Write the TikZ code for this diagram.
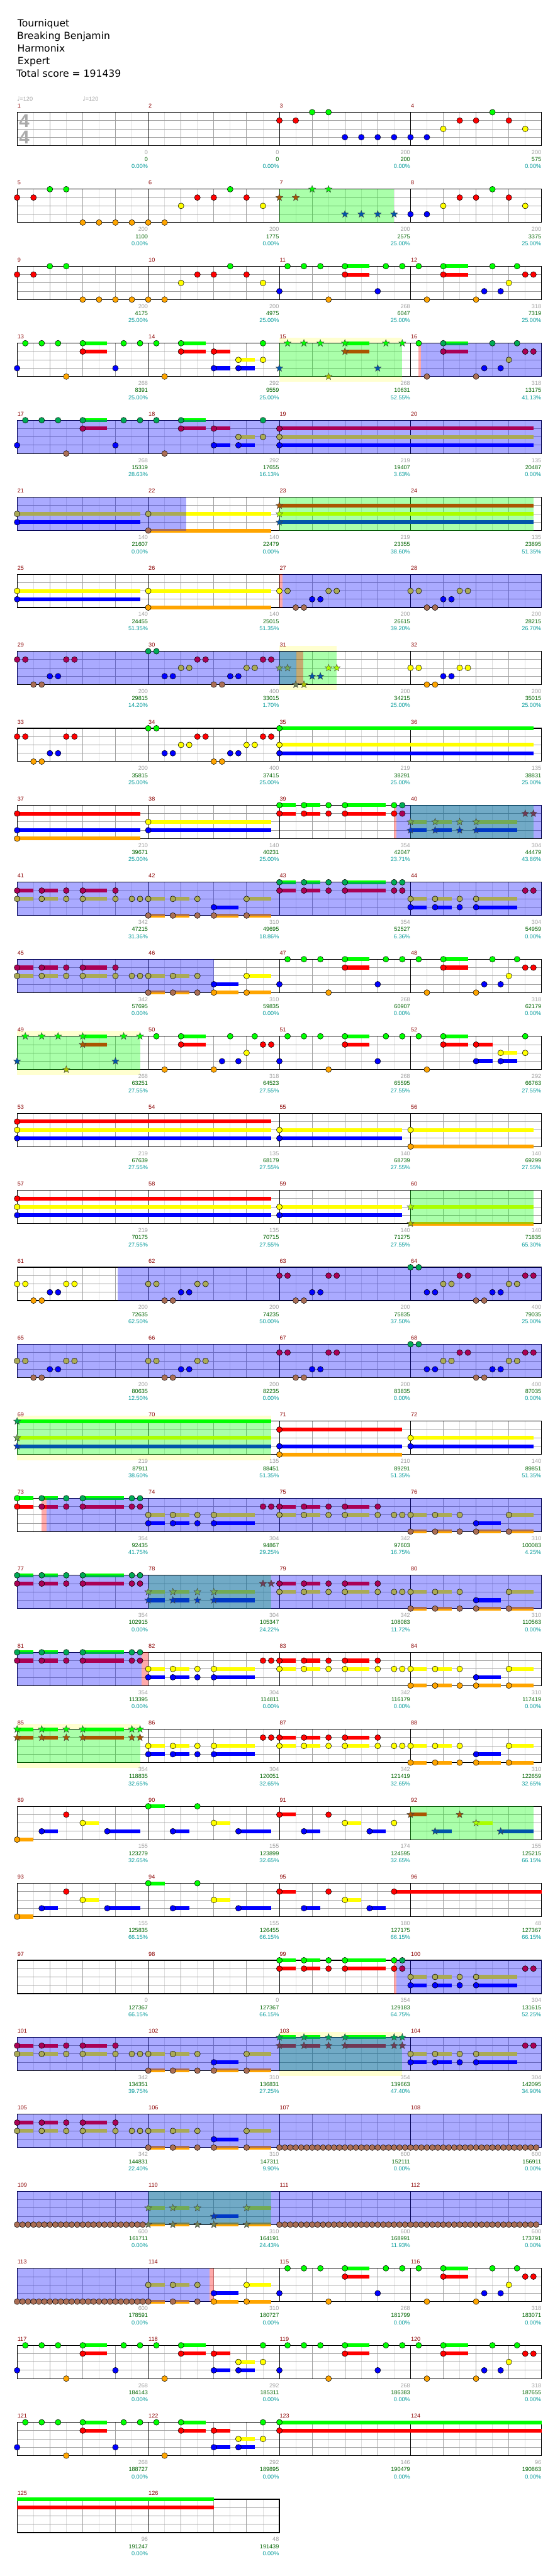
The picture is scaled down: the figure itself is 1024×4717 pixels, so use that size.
\documentclass[tikz,border=0pt]{standalone}
\usepackage{fontspec}
\setmainfont{DejaVu Sans}
\newfontfamily\lab{Liberation Sans}
\newfontfamily\dv{DejaVu Sans}
\newif\ifsus
% lane colours: n normal, b blue overlay, g green (star power), t green+blue
\definecolor{lane0n}{RGB}{0,255,0}\definecolor{lane1n}{RGB}{255,0,0}\definecolor{lane2n}{RGB}{255,255,0}\definecolor{lane3n}{RGB}{0,0,255}\definecolor{lane4n}{RGB}{255,165,0}
\definecolor{lane0b}{RGB}{0,170,85}\definecolor{lane1b}{RGB}{170,0,85}\definecolor{lane2b}{RGB}{170,170,85}\definecolor{lane3b}{RGB}{0,0,255}\definecolor{lane4b}{RGB}{170,110,85}
\definecolor{lane0g}{RGB}{0,255,0}\definecolor{lane1g}{RGB}{170,85,0}\definecolor{lane2g}{RGB}{170,255,0}\definecolor{lane3g}{RGB}{0,85,170}\definecolor{lane4g}{RGB}{170,195,0}
\definecolor{lane0t}{RGB}{0,170,85}\definecolor{lane1t}{RGB}{113,57,85}\definecolor{lane2t}{RGB}{113,170,85}\definecolor{lane3t}{RGB}{0,57,198}\definecolor{lane4t}{RGB}{113,130,85}
\definecolor{mnum}{RGB}{139,0,0}
\definecolor{gnum}{RGB}{160,160,160}
\definecolor{snum}{RGB}{0,100,0}
\definecolor{pnum}{RGB}{0,153,153}
\definecolor{solo}{RGB}{255,255,208}
\definecolor{gline}{RGB}{160,160,160}
\definecolor{lline}{RGB}{222,222,222}
\definecolor{tsig}{RGB}{170,170,170}
\tikzset{
 txt/.style={inner sep=0pt,font=\lab\fontsize{10.5}{12}\selectfont},
 head/.style={inner sep=0pt,anchor=base west,font=\fontsize{18}{22}\selectfont},
 gov/.style={fill={rgb,255:red,0;green,255;blue,0},fill opacity=0.333},
 bov/.style={fill={rgb,255:red,0;green,0;blue,255},fill opacity=0.333},
 pov/.style={fill={rgb,255:red,255;green,0;blue,0},fill opacity=0.333}
}
\newcommand\setpos[2]{%
 \pgfmathsetmacro\px{31.3+240*mod(#1-1,4)+15*(#2)}%
 \pgfmathsetmacro\py{205.5+141*floor((#1-1)/4)}}
\newcommand\chkb[2]{%
 \pgfmathsetmacro\gp{(#1-1)*16+(#2)}%
 \pgfmathtruncatemacro\isb{(\gp>241.2)*(\gp<340.6)+(\gp>416.2)*(\gp<482.5)+(\gp>622.5)*(\gp<727.5)+(\gp>972.1)*(\gp<1088.5)+(\gp>1154.5)*(\gp<1295.5)+(\gp>1582.5)*(\gp<1815.5)}}
\newcommand\Nc[3]{\ifsus\else
 \setpos{#1}{#2}\chkb{#1}{#2}%
 \ifnum\isb>0 \def\csuf{b}\else\def\csuf{n}\fi
 \foreach \lnx in {#3}{%
  \pgfmathsetmacro\yy{\py+15.25*\lnx}%
  \filldraw[fill=lane\lnx\csuf,draw=black,line width=.6pt] (\px,\yy) circle (5.3);}%
 \fi}
\newcommand\Ns[3]{\ifsus\else
 \setpos{#1}{#2}\chkb{#1}{#2}%
 \ifnum\isb>0 \def\csuf{t}\else\def\csuf{g}\fi
 \foreach \lnx in {#3}{%
  \pgfmathsetmacro\yy{\py+15.25*\lnx}%
  \filldraw[fill=lane\lnx\csuf,draw=black!75,line width=.5pt,shift={(\px,\yy)}] (270:6.8)--(306:2.9)--(342:6.8)--(18:2.9)--(54:6.8)--(90:2.9)--(126:6.8)--(162:2.9)--(198:6.8)--(234:2.9)--cycle;}%
 \fi}
\newcommand\Su[4]{\ifsus
 \setpos{#1}{#2}\let\pa\px\setpos{#1}{#3}%
 \foreach \lnx in {#4}{%
  \pgfmathsetmacro\yy{\py+15.25*\lnx}%
  \fill[lane\lnx n] (\pa,\yy-3.5) rectangle (\px,\yy+3.5);}%
 \fi}
\newcommand\Lg[4]{\Su{#1}{0}{#2}{#3}#4{#1}{0}{#3}}
\newcommand\Rg[4]{\setpos{#1}{#2}\let\pa\px\setpos{#1}{#3}\fill[#4] (\pa,\py) rectangle (\px,\py+61);}
\newcommand\Solo[3]{\setpos{#1}{#2}\let\pa\px\setpos{#1}{#3}\fill[solo] (\pa,\py-10) rectangle (\px,\py+71);}
% patterns
\newcommand\pAa[3]{#2{#1}{0}{1}#2{#1}{2}{1}#2{#1}{4}{0}#2{#1}{6}{0}#2{#1}{8}{#3}#2{#1}{10}{#3}#2{#1}{12}{#3}#2{#1}{14}{#3}}
\newcommand\pAb[3]{#2{#1}{0}{#3}#2{#1}{2}{#3}#2{#1}{4}{2}#2{#1}{6}{1}#2{#1}{8}{1}#2{#1}{10}{0}#2{#1}{12}{1}#2{#1}{14}{2}}
\newcommand\pBo[2]{#2{#1}{0}{3}#2{#1}{1}{0}#2{#1}{3}{0}#2{#1}{5}{0}#2{#1}{6}{4}\Su{#1}{8}{11}{0,1}#2{#1}{8}{0,1}#2{#1}{12}{3}#2{#1}{13}{0}#2{#1}{15}{0}}
\newcommand\pBe[2]{#2{#1}{1}{0}#2{#1}{2}{4}\Su{#1}{4}{7}{0,1}#2{#1}{4}{0,1}#2{#1}{8}{4}#2{#1}{9}{3}#2{#1}{10}{0}#2{#1}{11}{3}#2{#1}{12}{2}#2{#1}{13}{0}#2{#1}{14}{1}#2{#1}{15}{1}}
\newcommand\pC[2]{#2{#1}{1}{0}#2{#1}{2}{4}\Su{#1}{4}{7}{0,1}#2{#1}{4}{0,1}\Su{#1}{8}{10}{1,3}#2{#1}{8}{1,3}\Su{#1}{11}{13}{2,3}#2{#1}{11}{2,3}#2{#1}{14}{0,2}}
\newcommand\pDa[2]{#2{#1}{0}{2}#2{#1}{1}{2}#2{#1}{2}{4}#2{#1}{3}{4}#2{#1}{4}{3}#2{#1}{5}{3}#2{#1}{6}{2}#2{#1}{7}{2}}
\newcommand\pDb[2]{#2{#1}{0}{1}#2{#1}{1}{1}#2{#1}{2}{4}#2{#1}{3}{4}#2{#1}{4}{3}#2{#1}{5}{3}#2{#1}{6}{1}#2{#1}{7}{1}}
\newcommand\pDc[2]{#2{#1}{0}{0}#2{#1}{1}{0}#2{#1}{2}{3}#2{#1}{3}{3}#2{#1}{4}{2}#2{#1}{5}{2}#2{#1}{6}{1}#2{#1}{7}{1}#2{#1}{8}{4}#2{#1}{9}{4}#2{#1}{10}{3}#2{#1}{11}{3}#2{#1}{12}{2}#2{#1}{13}{2}#2{#1}{14}{1}#2{#1}{15}{1}}
\newcommand\pEa[2]{\Su{#1}{0}{2}{0,1}#2{#1}{0}{0,1}\Su{#1}{3}{5}{0,1}#2{#1}{3}{0,1}#2{#1}{6}{0,1}\Su{#1}{8}{13}{0,1}#2{#1}{8}{0,1}#2{#1}{14}{0,1}#2{#1}{15}{0,1}}
\newcommand\pEb[2]{\Su{#1}{0}{2}{2,3}#2{#1}{0}{2,3}\Su{#1}{3}{5}{2,3}#2{#1}{3}{2,3}#2{#1}{6}{2,3}\Su{#1}{8}{13}{2,3}#2{#1}{8}{2,3}#2{#1}{14}{1}#2{#1}{15}{1}}
\newcommand\pEc[2]{\Su{#1}{0}{2}{1,2}#2{#1}{0}{1,2}\Su{#1}{3}{5}{1,2}#2{#1}{3}{1,2}#2{#1}{6}{1,2}\Su{#1}{8}{11}{1,2}#2{#1}{8}{1,2}#2{#1}{12}{1,2}#2{#1}{14}{2}#2{#1}{15}{2}}
\newcommand\pEd[2]{\Su{#1}{0}{2}{2,4}#2{#1}{0}{2,4}\Su{#1}{3}{5}{2,4}#2{#1}{3}{2,4}#2{#1}{6}{2,4}\Su{#1}{8}{11}{3,4}#2{#1}{8}{3,4}\Su{#1}{12}{15}{2,4}#2{#1}{12}{2,4}}
\newcommand\pFx[2]{\Su{#1}{3}{5}{3}#2{#1}{3}{3}\Su{#1}{8}{10}{2}#2{#1}{8}{2}}
\newcommand\pFa[2]{\Su{#1}{0}{2}{4}#2{#1}{0}{4}\pFx{#1}{#2}#2{#1}{6}{1}\Su{#1}{11}{15}{3}#2{#1}{11}{3}}
\newcommand\pFb[2]{\Su{#1}{0}{2}{0}#2{#1}{0}{0}\pFx{#1}{#2}#2{#1}{6}{0}\Su{#1}{11}{15}{3}#2{#1}{11}{3}}
\newcommand\pFc[2]{\Su{#1}{0}{2}{1}#2{#1}{0}{1}\pFx{#1}{#2}#2{#1}{6}{1}\Su{#1}{11}{13}{3}#2{#1}{11}{3}#2{#1}{14}{2}}
\newcommand\pFd[2]{\Su{#1}{0}{2}{1}#2{#1}{0}{1}\pFx{#1}{#2}#2{#1}{6}{1}\Su{#1}{11}{15}{3}#2{#1}{11}{3}}
\newcommand\pFe[2]{\Su{#1}{0}{2}{1}#2{#1}{0}{1}\pFx{#1}{#2}#2{#1}{6}{1}\Su{#1}{11}{13}{3}#2{#1}{11}{3}\Su{#1}{14}{32}{1}#2{#1}{14}{1}}
\newcommand\pG[2]{\foreach \kk in {0,...,23}{#2{#1}{\kk*2/3}{4}}}
\newcommand\song{%
\pAa{3}{\Nc}{3}\pAb{4}{\Nc}{3}\pAa{5}{\Nc}{4}\pAb{6}{\Nc}{4}%
\pAa{7}{\Ns}{3}\pAb{8}{\Nc}{3}\pAa{9}{\Nc}{4}\pAb{10}{\Nc}{4}%
\pBo{11}{\Nc}\pBe{12}{\Nc}\pBo{13}{\Nc}\pC{14}{\Nc}%
\pBo{15}{\Ns}\pBe{16}{\Nc}\pBo{17}{\Nc}\pC{18}{\Nc}%
\Lg{19}{31}{1,2,3}{\Nc}%
\Lg{21}{15}{2,3}{\Nc}\Lg{22}{15}{2,4}{\Nc}\Lg{23}{31}{1,2,3}{\Ns}%
\Lg{25}{15}{2,3}{\Nc}\Lg{26}{15}{2,4}{\Nc}\pDa{27}{\Nc}\pDa{28}{\Nc}%
\pDb{29}{\Nc}\pDc{30}{\Nc}\pDa{31}{\Ns}\pDa{32}{\Nc}%
\pDb{33}{\Nc}\pDc{34}{\Nc}\Lg{35}{31}{0,2,3}{\Nc}%
\Lg{37}{15}{1,3,4}{\Nc}\Lg{38}{15}{2,3}{\Nc}\pEa{39}{\Nc}\pEb{40}{\Ns}%
\pEc{41}{\Nc}\pEd{42}{\Nc}\pEa{43}{\Nc}\pEb{44}{\Nc}%
\pEc{45}{\Nc}\pEd{46}{\Nc}\pBo{47}{\Nc}\pBe{48}{\Nc}%
\pBo{49}{\Ns}\pBe{50}{\Nc}\pBo{51}{\Nc}\pC{52}{\Nc}%
\Lg{53}{31}{1,2,3}{\Nc}\Lg{55}{15}{2,3}{\Nc}\Lg{56}{15}{2,4}{\Nc}%
\Lg{57}{31}{1,2,3}{\Nc}\Lg{59}{15}{2,3}{\Nc}\Lg{60}{15}{2,4}{\Ns}%
\pDa{61}{\Nc}\pDa{62}{\Nc}\pDb{63}{\Nc}\pDc{64}{\Nc}%
\pDa{65}{\Nc}\pDa{66}{\Nc}\pDb{67}{\Nc}\pDc{68}{\Nc}%
\Lg{69}{31}{0,2,3}{\Ns}\Lg{71}{15}{1,3,4}{\Nc}\Lg{72}{15}{2,3}{\Nc}%
\pEa{73}{\Nc}\pEb{74}{\Nc}\pEc{75}{\Nc}\pEd{76}{\Nc}%
\pEa{77}{\Nc}\pEb{78}{\Ns}\pEc{79}{\Nc}\pEd{80}{\Nc}%
\pEa{81}{\Nc}\pEb{82}{\Nc}\pEc{83}{\Nc}\pEd{84}{\Nc}%
\pEa{85}{\Ns}\pEb{86}{\Nc}\pEc{87}{\Nc}\pEd{88}{\Nc}%
\pFa{89}{\Nc}\pFb{90}{\Nc}\pFc{91}{\Nc}\pFd{92}{\Ns}%
\pFa{93}{\Nc}\pFb{94}{\Nc}\pFe{95}{\Nc}%
\pEa{99}{\Nc}\pEb{100}{\Nc}%
\pEc{101}{\Nc}\pEd{102}{\Nc}\pEa{103}{\Ns}\pEb{104}{\Nc}%
\pEc{105}{\Nc}\pEd{106}{\Nc}\pG{107}{\Nc}\pG{108}{\Nc}%
\pG{109}{\Nc}\pEd{110}{\Ns}\pG{111}{\Nc}\pG{112}{\Nc}%
\pG{113}{\Nc}\pEd{114}{\Nc}\pBo{115}{\Nc}\pBe{116}{\Nc}%
\pBo{117}{\Nc}\pC{118}{\Nc}\pBo{119}{\Nc}\pBe{120}{\Nc}%
\pBo{121}{\Nc}\pC{122}{\Nc}\Lg{123}{32}{0,1}{\Nc}%
\Su{125}{0}{24}{0,1}}
\newcommand\staff[2]{%
 \pgfmathsetmacro\ty{205.5+141*#1}\pgfmathsetmacro\xr{31.3+240*#2}%
 \pgfmathtruncatemacro\nl{#2-1}%
 \fill[white] (31.3,\ty) rectangle (\xr,\ty+61);
 \foreach \k in {0,...,\nl}{%
  \pgfmathsetmacro\xa{31.3+240*\k}%
  \foreach \j in {1,3,5,7}{\draw[lline,line width=1pt] (\xa+30*\j,\ty) -- ++(0,61);}
  \foreach \j in {2,4,6}{\draw[gline,line width=1pt] (\xa+30*\j,\ty) -- ++(0,61);}}
 \foreach \j in {1,2,3}{\draw[gline,line width=1pt] (31.3,\ty+15.25*\j) -- (\xr,\ty+15.25*\j);}
 \foreach \k in {1,...,\nl}{\pgfmathsetmacro\xa{31.3+240*\k}\draw[black,line width=1pt] (\xa,\ty) -- ++(0,61);}
 \draw[black,line width=1.3pt] (31.3,\ty) rectangle (\xr,\ty+61);}
\begin{document}
\begin{tikzpicture}[x=1pt,y=-1pt]
\useasboundingbox (0,0) rectangle (1024,4717);
\fill[white] (0,0) rectangle (1024,4717);
% header
\node[head] (t1) at (32,49.3) {Tourniquet};
\node[head] (t2) at (31,72.3) {Breaking Benjamin};
\node[head] (t3) at (31.5,95.3) {Harmonix};
\node[head] (t4) at (32,118.3) {Expert};
\node[head] (t5) at (30,141.3) {Total score = 191439};
\node[txt,text=gnum,anchor=base west] (tp1) at (31,185) {{\dv\fontsize{11}{12}\selectfont ♩}=120};
\node[txt,text=gnum,anchor=base west] (tp2) at (151,185) {{\dv\fontsize{11}{12}\selectfont ♩}=120};
% solo sections
\Solo{15}{0}{15}\Solo{31}{0}{7}\Solo{49}{0}{15}\Solo{69}{0}{31}\Solo{85}{0}{15}\Solo{103}{0}{15}
% staffs
\foreach \r in {0,...,30}{\staff{\r}{4}}
\staff{31}{2}
\node[inner sep=0pt,text=tsig,font=\lab\bfseries\fontsize{34}{34}\selectfont] (ts1) at (44.5,221) {4};
\node[inner sep=0pt,text=tsig,font=\lab\bfseries\fontsize{34}{34}\selectfont] (ts2) at (44.5,251) {4};
% sustains
\sustrue\song
% overlays
\Rg{7}{0}{14}{gov}\Rg{15}{0}{15}{gov}\Rg{23}{0}{31}{gov}\Rg{31}{0}{7}{gov}\Rg{40}{0}{15}{gov}
\Rg{49}{0}{15}{gov}\Rg{60}{0}{15}{gov}\Rg{69}{0}{31}{gov}\Rg{78}{0}{15}{gov}\Rg{85}{0}{15}{gov}
\Rg{92}{0}{15}{gov}\Rg{103}{0}{15}{gov}\Rg{110}{0}{15}{gov}
\Rg{16}{1.3}{16}{bov}\Rg{17}{0}{64}{bov}\Rg{21}{0}{20.6}{bov}\Rg{27}{0.4}{32}{bov}\Rg{29}{0}{34.1}{bov}
\Rg{39}{14.3}{32}{bov}\Rg{41}{0}{64}{bov}\Rg{45}{0}{24}{bov}\Rg{61}{12.3}{64}{bov}\Rg{65}{0}{64}{bov}
\Rg{73}{3.6}{64}{bov}\Rg{77}{0}{64}{bov}\Rg{81}{0}{15.2}{bov}\Rg{99}{14.3}{32}{bov}\Rg{101}{0}{64}{bov}
\Rg{105}{0}{64}{bov}\Rg{109}{0}{64}{bov}\Rg{113}{0}{23.5}{bov}
\Rg{16}{1}{1.3}{pov}\Rg{27}{0}{0.4}{pov}\Rg{31}{2.1}{2.9}{pov}\Rg{39}{14}{14.3}{pov}
\Rg{73}{3}{3.6}{pov}\Rg{81}{15.2}{16}{pov}\Rg{99}{14}{14.3}{pov}\Rg{114}{7.5}{8}{pov}
% notes
\susfalse\song
% labels
\foreach \m/\g/\s/\p in {1/0/0/0.00,2/0/0/0.00,3/200/200/0.00,4/200/575/0.00,
5/200/1100/0.00,6/200/1775/0.00,7/200/2575/25.00,8/200/3375/25.00,
9/200/4175/25.00,10/200/4975/25.00,11/268/6047/25.00,12/318/7319/25.00,
13/268/8391/25.00,14/292/9559/25.00,15/268/10631/52.55,16/318/13175/41.13,
17/268/15319/28.63,18/292/17655/16.13,19/219/19407/3.63,20/135/20487/0.00,
21/140/21607/0.00,22/140/22479/0.00,23/219/23355/38.60,24/135/23895/51.35,
25/140/24455/51.35,26/140/25015/51.35,27/200/26615/39.20,28/200/28215/26.70,
29/200/29815/14.20,30/400/33015/1.70,31/200/34215/25.00,32/200/35015/25.00,
33/200/35815/25.00,34/400/37415/25.00,35/219/38291/25.00,36/135/38831/25.00,
37/210/39671/25.00,38/140/40231/25.00,39/354/42047/23.71,40/304/44479/43.86,
41/342/47215/31.36,42/310/49695/18.86,43/354/52527/6.36,44/304/54959/0.00,
45/342/57695/0.00,46/310/59835/0.00,47/268/60907/0.00,48/318/62179/0.00,
49/268/63251/27.55,50/318/64523/27.55,51/268/65595/27.55,52/292/66763/27.55,
53/219/67639/27.55,54/135/68179/27.55,55/140/68739/27.55,56/140/69299/27.55,
57/219/70175/27.55,58/135/70715/27.55,59/140/71275/27.55,60/140/71835/65.30,
61/200/72635/62.50,62/200/74235/50.00,63/200/75835/37.50,64/400/79035/25.00,
65/200/80635/12.50,66/200/82235/0.00,67/200/83835/0.00,68/400/87035/0.00,
69/219/87911/38.60,70/135/88451/51.35,71/210/89291/51.35,72/140/89851/51.35,
73/354/92435/41.75,74/304/94867/29.25,75/342/97603/16.75,76/310/100083/4.25,
77/354/102915/0.00,78/304/105347/24.22,79/342/108083/11.72,80/310/110563/0.00,
81/354/113395/0.00,82/304/114811/0.00,83/342/116179/0.00,84/310/117419/0.00,
85/354/118835/32.65,86/304/120051/32.65,87/342/121419/32.65,88/310/122659/32.65,
89/155/123279/32.65,90/155/123899/32.65,91/174/124595/32.65,92/155/125215/66.15,
93/155/125835/66.15,94/155/126455/66.15,95/180/127175/66.15,96/48/127367/66.15,
97/0/127367/66.15,98/0/127367/66.15,99/354/129183/64.75,100/304/131615/52.25,
101/342/134351/39.75,102/310/136831/27.25,103/354/139663/47.40,104/304/142095/34.90,
105/342/144831/22.40,106/310/147311/9.90,107/600/152111/0.00,108/600/156911/0.00,
109/600/161711/0.00,110/310/164191/24.43,111/600/168991/11.93,112/600/173791/0.00,
113/600/178591/0.00,114/310/180727/0.00,115/268/181799/0.00,116/318/183071/0.00,
117/268/184143/0.00,118/292/185311/0.00,119/268/186383/0.00,120/318/187655/0.00,
121/268/188727/0.00,122/292/189895/0.00,123/146/190479/0.00,124/96/190863/0.00,
125/96/191247/0.00,126/48/191439/0.00}{%
 \setpos{\m}{0}%
 \node[txt,text=mnum,anchor=base west] (mn\m) at (\px+0.5,\py-8) {\m};
 \setpos{\m}{16}%
 \node[txt,text=gnum,anchor=base east] (ga\m) at (\px-0.5,\py+77) {\g};
 \node[txt,text=snum,anchor=base east] (gb\m) at (\px-0.5,\py+90) {\s};
 \node[txt,text=pnum,anchor=base east] (gc\m) at (\px-0.5,\py+103) {\p\%};
}
\end{tikzpicture}
\end{document}
